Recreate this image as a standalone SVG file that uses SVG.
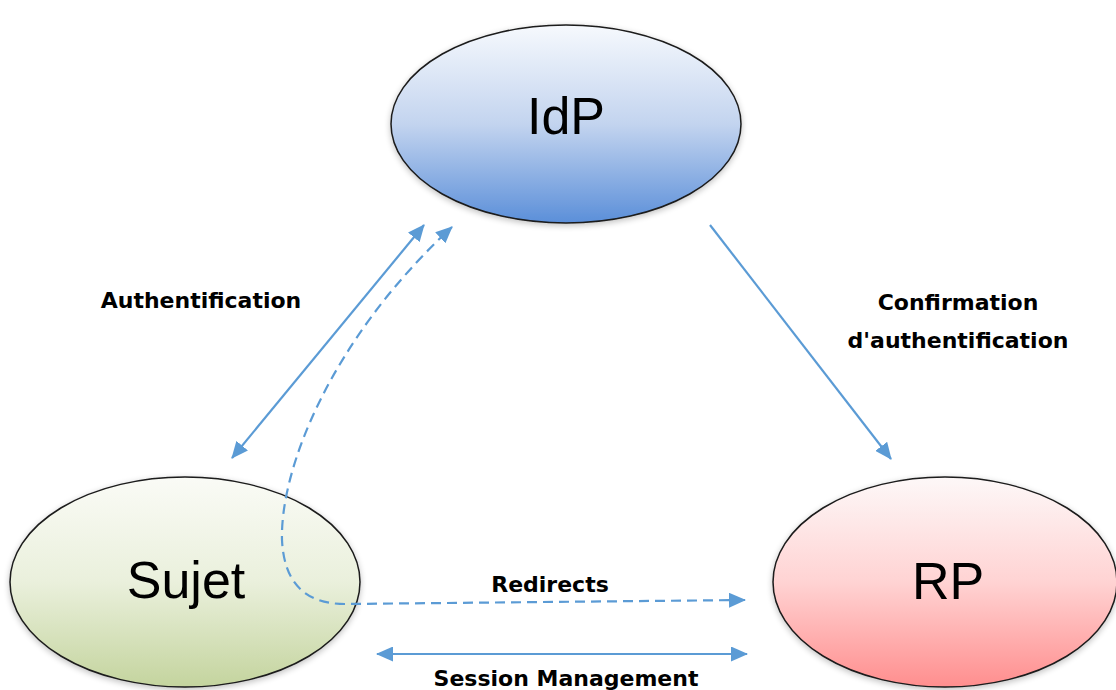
<svg xmlns="http://www.w3.org/2000/svg" width="1116" height="690" viewBox="0 0 1116 690">
<defs>
<linearGradient id="gIdp" x1="0" y1="0" x2="0" y2="1">
<stop offset="0" stop-color="#f6f9fd"/>
<stop offset="0.5" stop-color="#c3d4ef"/>
<stop offset="1" stop-color="#5b8fd9"/>
</linearGradient>
<linearGradient id="gSujet" x1="0" y1="0" x2="0" y2="1">
<stop offset="0" stop-color="#fafbf6"/>
<stop offset="0.5" stop-color="#eaf0dc"/>
<stop offset="1" stop-color="#c4d49e"/>
</linearGradient>
<linearGradient id="gRp" x1="0" y1="0" x2="0" y2="1">
<stop offset="0" stop-color="#fdf8f8"/>
<stop offset="0.5" stop-color="#ffd3d3"/>
<stop offset="1" stop-color="#ff8e8e"/>
</linearGradient>
<filter id="shadow" x="-10%" y="-10%" width="120%" height="120%">
<feGaussianBlur in="SourceAlpha" stdDeviation="3"/>
<feOffset dx="0" dy="2"/>
<feComponentTransfer><feFuncA type="linear" slope="0.25"/></feComponentTransfer>
<feMerge><feMergeNode/><feMergeNode in="SourceGraphic"/></feMerge>
</filter>
<marker id="arr" viewBox="0 0 17 15" refX="16" refY="7.5" markerWidth="17" markerHeight="15" markerUnits="userSpaceOnUse" orient="auto-start-reverse">
<path d="M0,0 L17,7.5 L0,15 Z" fill="#5b9bd5"/>
</marker>
</defs>
<style>
.node ellipse{stroke:#1a1a1a;stroke-width:1.5}
.nlabel{font-family:"Liberation Sans",Arial,sans-serif;font-size:52px;fill:#000;text-anchor:middle}
.elabel{font-family:"DejaVu Sans",Verdana,sans-serif;font-weight:bold;font-size:22px;fill:#000;text-anchor:middle}
.conn{fill:none;stroke:#5b9bd5;stroke-width:2.2}
.dash{stroke-dasharray:10 6}
</style>
<rect width="1116" height="690" fill="#ffffff"/>
<g id="idp" class="node">
<ellipse cx="566" cy="124" rx="175" ry="99" fill="url(#gIdp)" filter="url(#shadow)"/>
<text class="nlabel" x="566" y="134">IdP</text>
</g>
<g id="sujet" class="node">
<ellipse cx="185" cy="582" rx="175" ry="105" fill="url(#gSujet)" filter="url(#shadow)"/>
<text class="nlabel" x="186" y="598">Sujet</text>
</g>
<g id="rp" class="node">
<ellipse cx="945" cy="582" rx="172" ry="105" fill="url(#gRp)" filter="url(#shadow)"/>
<text class="nlabel" x="948" y="599">RP</text>
</g>
<g id="connectors">
<path class="conn" d="M232,458 L424,225" marker-start="url(#arr)" marker-end="url(#arr)"/>
<path class="conn dash" d="M745,600 L345,604 Q285,604 282,540 C280,470 330,340 452,227" marker-start="url(#arr)" marker-end="url(#arr)"/>
<path class="conn" d="M710,225 L891,459" marker-end="url(#arr)"/>
<path class="conn" d="M377,654 L747,654" marker-start="url(#arr)" marker-end="url(#arr)"/>
</g>
<g id="labels">
<text class="elabel" x="201" y="308">Authentification</text>
<text class="elabel" x="958" y="310">Confirmation</text>
<text class="elabel" x="958" y="348">d'authentification</text>
<text class="elabel" x="550" y="592">Redirects</text>
<text class="elabel" x="566" y="686">Session Management</text>
</g>
</svg>
